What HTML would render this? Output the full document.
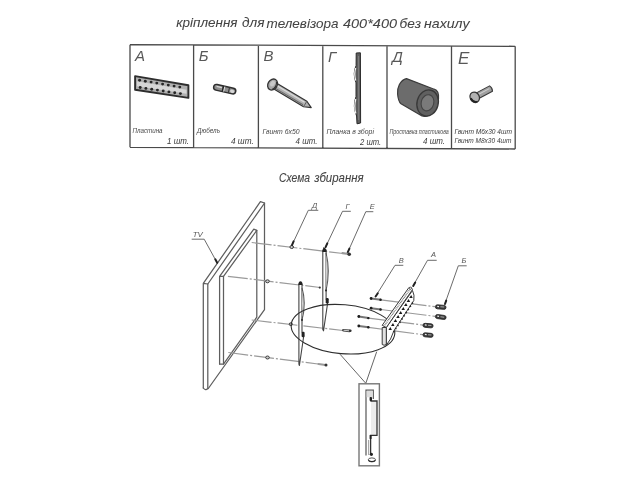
<!DOCTYPE html>
<html><head><meta charset="utf-8">
<style>
html,body{margin:0;padding:0;background:#fff;}
body{width:640px;height:480px;overflow:hidden;}
svg{display:block;will-change:transform;}
text{font-family:"Liberation Sans",sans-serif;font-style:italic;fill:#444;stroke:#444;stroke-width:0.25px;}
.title text{stroke-width:0.05px;}
.lbl text{fill:#484848;stroke:none;}
.qty text{fill:#3a3a3a;stroke:none;}
.dl text{fill:#555;stroke:none;}
.sub text{stroke-width:0.1px;}
.big text{fill:#585858;stroke:none;}
</style></head>
<body>
<svg width="640" height="480" viewBox="0 0 640 480">
<rect width="640" height="480" fill="#fff"/>
<!-- Title -->
<g font-size="13.2" class="title">
<text x="176.25" y="27.00" textLength="61.25" lengthAdjust="spacingAndGlyphs">кріплення</text>
<text x="242.00" y="27.40" textLength="22.50" lengthAdjust="spacingAndGlyphs">для</text>
<text x="266.50" y="27.54" textLength="72.00" lengthAdjust="spacingAndGlyphs">телевізора</text>
<text x="343.00" y="28.00" textLength="54.00" lengthAdjust="spacingAndGlyphs">400*400</text>
<text x="399.50" y="28.34" textLength="21.50" lengthAdjust="spacingAndGlyphs">без</text>
<text x="424.00" y="28.49" textLength="45.50" lengthAdjust="spacingAndGlyphs">нахилу</text>
</g>

<!-- Table -->
<g stroke="#4a4a4a" stroke-width="1.3" fill="none">
  <path d="M130 44.7 L515.2 46.3 M130 147.3 L515.2 149 M130 44.7 L130 147.3 M515.2 46.3 L515.2 149
           M193.6 45 L193.6 147.6 M258.4 45.2 L258.4 147.8 M322.8 45.5 L322.8 148.1 M387 45.8 L387 148.4 M451.5 46 L451.5 148.7"/>
</g>
<g font-size="15" class="big">
  <text x="135" y="60.6">А</text>
  <text x="198.8" y="60.5">Б</text>
  <text x="263.5" y="61">В</text>
  <text x="328" y="62">Г</text>
  <text x="392.3" y="62.3">Д</text>
  <text x="458" y="63.6" style="font-size:17px">Е</text>
</g>
<g font-size="6.5" class="lbl">
  <text x="132.5" y="133" textLength="30" lengthAdjust="spacingAndGlyphs">Пластина</text>
  <text x="197" y="133" textLength="23" lengthAdjust="spacingAndGlyphs">Дюбель</text>
  <text x="262.5" y="133.5" textLength="37" lengthAdjust="spacingAndGlyphs">Гвинт 6х50</text>
  <text x="326.6" y="134.3" textLength="47.4" lengthAdjust="spacingAndGlyphs">Планка в зборі</text>
  <text x="389.4" y="134.4" textLength="59.4" lengthAdjust="spacingAndGlyphs">Проставка пластикова</text>
  <text x="454.4" y="134.2" textLength="57.5" lengthAdjust="spacingAndGlyphs" style="fill:#3a3a3a">Гвинт М6х30  4шт</text>
  <text x="454.4" y="142.9" textLength="57" lengthAdjust="spacingAndGlyphs" style="fill:#3a3a3a">Гвинт М8х30 4шт</text>
</g>
<g font-size="9" class="qty">
  <text x="167" y="143.7" textLength="22" lengthAdjust="spacingAndGlyphs">1 шт.</text>
  <text x="231" y="143.7" textLength="22.7" lengthAdjust="spacingAndGlyphs">4 шт.</text>
  <text x="295.6" y="144" textLength="21.9" lengthAdjust="spacingAndGlyphs">4 шт.</text>
  <text x="360" y="145.4" textLength="21.2" lengthAdjust="spacingAndGlyphs">2 шт.</text>
  <text x="423" y="144.4" textLength="22" lengthAdjust="spacingAndGlyphs">4 шт.</text>
</g>


<!-- Table items -->
<!-- A plate -->
<g>
  <path d="M135.1 76.1 L188.4 85.2 L188.4 97.9 L135.1 89.8 Z" fill="#b0b0b0" stroke="#2e2e2e" stroke-width="1.9" stroke-linejoin="round"/>
  <path d="M137 81.3 L186.5 89.8 L186.5 93.8 L137 86.3 Z" fill="#d6d6d6"/>
  <g fill="#262626"><circle cx="139.6" cy="80.2" r="1.45"/><circle cx="145.3" cy="81.2" r="1.45"/><circle cx="151.1" cy="82.1" r="1.45"/><circle cx="156.8" cy="83.1" r="1.45"/><circle cx="162.6" cy="84.1" r="1.45"/><circle cx="168.3" cy="85.1" r="1.45"/><circle cx="174.1" cy="86.1" r="1.45"/><circle cx="179.8" cy="87.1" r="1.45"/><circle cx="140.2" cy="87.5" r="1.45"/><circle cx="145.9" cy="88.4" r="1.45"/><circle cx="151.7" cy="89.2" r="1.45"/><circle cx="157.4" cy="90.1" r="1.45"/><circle cx="163.2" cy="91.0" r="1.45"/><circle cx="168.9" cy="91.9" r="1.45"/><circle cx="174.7" cy="92.7" r="1.45"/><circle cx="180.4" cy="93.6" r="1.45"/></g>
</g>
<!-- Б dowel -->
<g transform="translate(224.7 89.2) rotate(13)">
  <rect x="-11.3" y="-2.9" width="22.6" height="5.8" rx="2.9" fill="#8e8e8e" stroke="#2e2e2e" stroke-width="1.4"/>
  <path d="M-8.5 -0.9 L-3 -0.9" stroke="#d8d8d8" stroke-width="1.3"/>
  <path d="M-1.8 -2.9 L-1.8 2.9" stroke="#262626" stroke-width="1.6"/>
  <path d="M-0.5 -2.6 L-0.5 2.6" stroke="#eee" stroke-width="0.8"/>
  <path d="M4.3 -2.9 L4.3 2.9" stroke="#333" stroke-width="1"/>
  <ellipse cx="7.8" cy="0.4" rx="2.2" ry="1.7" fill="#d6d6d6"/>
</g>
<!-- В screw -->
<g transform="translate(273 84.8) rotate(30.8)">
  <path d="M0 -3.2 L37.5 -3.2 L44.5 0 L37.5 3.2 L0 3.2 Z" fill="#b0b0b0" stroke="#333" stroke-width="1.2" stroke-linejoin="round"/>
  <path d="M3 -1.2 L36 -1.2" stroke="#dcdcdc" stroke-width="1.2"/>
  <path d="M4 1.8 L36 1.8" stroke="#6a6a6a" stroke-width="1"/>
  <path d="M37.5 -3.2 L37.5 3.2" stroke="#555" stroke-width="0.8"/>
  <ellipse cx="-0.5" cy="0" rx="4.6" ry="5.8" fill="#a8a8a8" stroke="#333" stroke-width="1.3"/>
  <path d="M1.5 -4.5 Q4.5 0 1.5 4.5" stroke="#333" stroke-width="1" fill="none"/>
  <ellipse cx="-1" cy="-0.8" rx="2.2" ry="3" fill="#c8c8c8"/>
</g>
<!-- Г plate -->
<g>
  <path d="M356.2 53 L360.4 52.8 L360.6 123 L357 123.8 L356.6 116 Q352.4 106 356 96.5 L356 82.8 Q352.4 73.5 356.1 65.5 Z" fill="#5e5e5e" stroke="#2a2a2a" stroke-width="1" stroke-linejoin="round"/>
  <path d="M355.7 68 Q353.8 74 355.7 80.5" stroke="#f4f4f4" stroke-width="1.2" fill="none"/>
  <path d="M355.8 99 Q353.8 106 355.8 113.5" stroke="#f4f4f4" stroke-width="1.2" fill="none"/>
  <path d="M358.6 56 L358.7 120" stroke="#858585" stroke-width="0.9"/>
</g>
<!-- Д spacer -->
<g>
  <path d="M406.5 78.6 C400 80 397 88 397.6 94 C398 99 399.5 102.5 401 103.8 L422 116 C427 117.5 431 115 434 111 L438.5 99 C439 93 437 90 434.2 89.2 Z" fill="#6c6c6c" stroke="#3c3c3c" stroke-width="1.2" stroke-linejoin="round"/>
  <ellipse cx="427.6" cy="103" rx="10.6" ry="13.2" transform="rotate(15 427.6 103)" fill="#606060" stroke="#383838" stroke-width="1.3"/>
  <ellipse cx="427.5" cy="102.8" rx="6.3" ry="8.2" transform="rotate(15 427.5 102.8)" fill="#7a7a7a" stroke="#444" stroke-width="1.1"/>
</g>
<!-- Е screw -->
<g transform="translate(474.7 97.3) rotate(-28)">
  <path d="M2 -3.1 L18.5 -3.1 Q20.3 0 18.5 3.1 L2 3.1 Z" fill="#a0a0a0" stroke="#3a3a3a" stroke-width="1.1" stroke-linejoin="round"/>
  <path d="M4 -0.8 L17 -0.8" stroke="#cfcfcf" stroke-width="1"/>
  <ellipse cx="0" cy="0" rx="4.6" ry="5.4" fill="#b2b2b2" stroke="#333" stroke-width="1.2"/>
  <path d="M-4 -1 Q-3.8 4.3 0.5 5" stroke="#222" stroke-width="1.8" fill="none"/>
</g>
<!-- Subtitle -->
<g font-size="13" class="sub" style="fill:#444">
<text x="279" y="182.4" textLength="31" lengthAdjust="spacingAndGlyphs">Схема</text>
<text x="314.2" y="182.4" textLength="49.5" lengthAdjust="spacingAndGlyphs">збирання</text>
</g>

<!-- Diagram lines -->
<g stroke="#5e5e5e" stroke-width="1.25" fill="none" stroke-linecap="round" stroke-linejoin="round">
  <!-- TV outer panel -->
  <path d="M203.3 388 L203.3 283.3 L260.4 201.7 L264.6 203 L207.8 284 L203.3 283.3"/>
  <path d="M207.8 284 L207.8 388.5 Q205.5 391 203.3 388"/>
  <path d="M264.5 203 L264.5 309.6 L208.3 388.5"/>
  <!-- TV inner panel -->
  <path d="M219.6 364.1 L219.6 276.3 L253.8 229.2 L256.8 230.4 L223.5 276.3 L219.6 276.3"/>
  <path d="M223.5 276.3 L223.5 364.1 L219.6 364.1"/>
  <path d="M256.8 230.4 L256.8 317.1 L223.5 364.1"/>
</g>

<!-- Dash-dot center lines -->
<g stroke="#9a9a9a" stroke-width="1.2" fill="none" stroke-dasharray="20 2 2 2">
  <path d="M251.7 242.5 L343 253.5"/>
  <path d="M227.9 276.3 L320 287.5"/>
  <path d="M251.7 320 L343 330.5"/>
  <path d="M228.3 352.5 L318 364"/>
  <path d="M380.8 299.8 L435 306.7"/>
  <path d="M380.8 309.5 L435 316.3"/>
  <path d="M368.5 318.1 L423 325.1"/>
  <path d="M368.5 327.3 L423 334.7"/>
</g>
<!-- spacer circles -->
<g stroke="#3a3a3a" stroke-width="1" fill="#ccc">
  <ellipse cx="291.7" cy="247" rx="1.8" ry="1.5"/>
  <ellipse cx="267.5" cy="281.3" rx="1.8" ry="1.5"/>
  <ellipse cx="290.8" cy="324.2" rx="1.6" ry="1.4"/>
  <ellipse cx="267.5" cy="357.5" rx="1.8" ry="1.5"/>
</g>
<!-- Leaders and labels -->
<g stroke="#5a5a5a" stroke-width="0.9" fill="none">
  <path d="M191.7 239.2 L204.2 239.2 L217 262.5"/>
  <path d="M318.3 210.3 L308.3 210.3 L292 245"/>
  <path d="M350.8 211.3 L342.5 211.3 L325.6 247"/>
  <path d="M373.3 211.7 L365.8 211.7 L347.8 252.2"/>
  <path d="M403.3 265.3 L395 265.3 L375.8 296"/>
  <path d="M436.7 260.3 L427.5 260.3 L413.3 285.5"/>
  <path d="M466.7 265.8 L458.3 265.8 L445 303.5"/>
</g>
<g stroke="#222" stroke-width="2" stroke-linecap="round">
  <path d="M217.2 262.8 L215.3 259.3"/>
  <path d="M292 245.2 L293.6 241.4"/>
  <path d="M325.6 247.2 L327.3 243.4"/>
  <path d="M347.7 252.4 L349.4 248.6"/>
  <path d="M375.6 296.5 L377.8 293.3"/>
  <path d="M413.2 286 L415.2 282.6"/>
  <path d="M445 304 L446.2 300.6"/>
</g>
<g font-size="7.5" class="dl">
  <text x="192.8" y="236.8" textLength="10" lengthAdjust="spacingAndGlyphs">TV</text>
  <text x="312" y="207.6">Д</text>
  <text x="345.5" y="209.3">Г</text>
  <text x="369.8" y="209.3">Е</text>
  <text x="398.8" y="262.6">В</text>
  <text x="431" y="256.8">А</text>
  <text x="461.4" y="263.4">Б</text>
</g>
<!-- Г plates -->
<g stroke="#444" stroke-width="1.1" fill="none" stroke-linejoin="round">
  <path d="M322.8 250 L322.8 329.5 L323.5 330.8 L327.5 304 L327.5 302 L326.1 298.5 L326.1 250 Z" fill="#fff"/>
  <path d="M326 253 Q330.5 270 326 291" fill="#e2e2e2" stroke="#555"/>
  <path d="M326 256 Q328.6 270 326 287" stroke="#999" stroke-width="0.7"/>
  <path d="M298.9 284 L298.9 364 L299.4 365.5 L303.6 337 L303.6 335 L302 332 L302 284 Z" fill="#fff"/>
  <path d="M302 288 Q306.5 303 302 320" fill="#e2e2e2" stroke="#555"/>
  <path d="M302 291 Q304.5 303 302 316" stroke="#999" stroke-width="0.7"/>
</g>
<g fill="#222">
  <path d="M322.3 252 L323.4 247.3 Q325 246.8 326.4 250 L326.4 252 Z"/>
  <path d="M298.4 285 Q298.4 281.3 300.5 281.3 Q302.5 281.3 302.5 285 Z"/>
  <rect x="325.7" y="298" width="3" height="5.5" rx="1.2"/>
  <rect x="301.6" y="331.8" width="3" height="5.5" rx="1.2"/>
  <circle cx="326" cy="290.5" r="0.9"/>
  <circle cx="302" cy="320" r="0.9"/>
</g>
<!-- Ellipse detail -->
<ellipse cx="343" cy="329.2" rx="52" ry="24.5" transform="rotate(5 343 329.2)" stroke="#2e2e2e" stroke-width="1.1" fill="none"/>
<path d="M340 354.2 L365.8 383.3 L376.7 351.7" stroke="#555" stroke-width="0.9" fill="none"/>
<!-- Bracket A -->
<g stroke="#3a3a3a" stroke-width="1" fill="#fff" stroke-linejoin="round">
  <path d="M412.5 290.5 Q414.8 295 413.8 300.5 L393.9 330.8 Q391 340 386.3 345.2 L386.3 327.5 Z"/>
  <path d="M382.2 325.3 L409 287.4 Q411.5 286.8 412.5 289.5 L386.3 327.5 Z"/>
  <path d="M383.9 326.4 L410.5 288.6" stroke="#6a6a6a" stroke-width="1.4" stroke-dasharray="0.8 0.8"/>
  <path d="M382.2 327.5 L386.3 327.5 L386.3 344.5 Q384 346 382.2 344.5 Z" fill="#e2e2e2"/>
</g>
<path d="M411.2 294.9 L409.2 298.1 L412.7 298.1 Z M408.6 298.9 L406.6 302.1 L410.1 302.1 Z M406.0 302.9 L404.0 306.1 L407.5 306.1 Z M403.4 306.9 L401.4 310.1 L404.9 310.1 Z M400.8 310.9 L398.8 314.1 L402.3 314.1 Z M398.2 314.9 L396.2 318.1 L399.7 318.1 Z M395.6 318.9 L393.6 322.1 L397.1 322.1 Z M393.0 322.9 L391.0 326.1 L394.5 326.1 Z M390.4 326.9 L388.4 330.1 L391.9 330.1 Z" fill="#1a1a1a"/>
<path d="M412.8 302.5 L393.5 332" stroke="#2a2a2a" stroke-width="1.7" stroke-dasharray="1.4 2.4"/>
<circle cx="410.6" cy="288.2" r="1.1" fill="#fff" stroke="#444" stroke-width="0.8"/>
<!-- Bolts B -->
<g stroke="#777" stroke-width="2" stroke-linecap="round">
  <path d="M371.1 298.5 L380.75 299.8"/>
  <path d="M371.1 308.2 L380.75 309.5"/>
  <path d="M358.8 316.5 L368.5 318.1"/>
  <path d="M358.8 326 L368.5 327.3"/>
</g>
<g fill="#1e1e1e">
  <circle cx="371.1" cy="298.5" r="1.4"/><circle cx="380.5" cy="299.8" r="1.2"/>
  <circle cx="371.1" cy="308.2" r="1.4"/><circle cx="380.5" cy="309.5" r="1.2"/>
  <circle cx="358.8" cy="316.5" r="1.4"/><circle cx="368.3" cy="318.1" r="1.2"/>
  <circle cx="358.8" cy="326" r="1.4"/><circle cx="368.3" cy="327.3" r="1.2"/>
</g>
<path d="M343.3 330.2 L349.5 330.9" stroke="#444" stroke-width="2.6" stroke-linecap="round"/>
<path d="M344 330.3 L349 330.8" stroke="#ddd" stroke-width="0.9" stroke-linecap="round"/>
<g stroke="#999" stroke-width="2.2" stroke-linecap="round">
  <path d="M342.5 253.2 L348.5 254"/>
  <path d="M318.5 364 L325.5 365"/>
</g>
<g fill="#333">
  <circle cx="350.3" cy="330.8" r="1.3"/>
  <circle cx="349.2" cy="254.3" r="1.8"/>
  <circle cx="326" cy="365" r="1.5"/>
  <circle cx="319.8" cy="287.6" r="1.1"/>
</g>
<!-- Dowels -->
<g transform="translate(440.7 307.1) rotate(4.9)"><rect x="-5.3" y="-2" width="10.6" height="4" rx="2" fill="#3a3a3a" stroke="#222" stroke-width="0.8"/><path d="M-3.5 -0.4 L-1.7 -0.4" stroke="#eee" stroke-width="1.2"/><path d="M-0.3 -0.3 L3.5 -0.3" stroke="#aaa" stroke-width="1"/></g>
<g transform="translate(440.7 317.0) rotate(7.5)"><rect x="-5.3" y="-2" width="10.7" height="4" rx="2" fill="#3a3a3a" stroke="#222" stroke-width="0.8"/><path d="M-3.5 -0.4 L-1.7 -0.4" stroke="#eee" stroke-width="1.2"/><path d="M-0.3 -0.3 L3.5 -0.3" stroke="#aaa" stroke-width="1"/></g>
<g transform="translate(428.1 325.6) rotate(5.1)"><rect x="-5.1" y="-2" width="10.1" height="4" rx="2" fill="#3a3a3a" stroke="#222" stroke-width="0.8"/><path d="M-3.3 -0.4 L-1.5 -0.4" stroke="#eee" stroke-width="1.2"/><path d="M-0.1 -0.3 L3.3 -0.3" stroke="#aaa" stroke-width="1"/></g>
<g transform="translate(428.1 335.1) rotate(5.1)"><rect x="-5.1" y="-2" width="10.1" height="4" rx="2" fill="#3a3a3a" stroke="#222" stroke-width="0.8"/><path d="M-3.3 -0.4 L-1.5 -0.4" stroke="#eee" stroke-width="1.2"/><path d="M-0.1 -0.3 L3.3 -0.3" stroke="#aaa" stroke-width="1"/></g>
<!-- Detail box -->
<g fill="none" stroke-linejoin="miter">
  <rect x="359" y="383.8" width="20.4" height="82" stroke="#777" stroke-width="1.4"/>
  <path d="M366 455.5 L366 390.2 L373.3 390.2 L373.3 399" stroke="#555" stroke-width="1.2"/>
  <rect x="366.6" y="390.8" width="6.2" height="6.5" fill="#dcdcdc" stroke="none"/>
  <rect x="371" y="401.5" width="5.6" height="33.5" fill="#ececec" stroke="none"/>
  <path d="M371 398.5 L371 401 L377 401 L377 435.3 L370.6 435.3 L370.6 454.5" stroke="#333" stroke-width="1.3"/>
  <path d="M368.6 440 L368.6 455" stroke="#888" stroke-width="0.8"/>
</g>
<g fill="#222">
  <rect x="369.6" y="397" width="2.4" height="4" rx="0.8"/>
  <rect x="369.6" y="435" width="2" height="4" rx="0.6"/>
  <circle cx="371.4" cy="454.3" r="1.6"/>
</g>
<ellipse cx="371.9" cy="459.9" rx="3.7" ry="2" stroke="#444" stroke-width="0.9" fill="none"/>
<path d="M368.5 460.5 Q371.9 462.5 375.3 460.5" stroke="#222" stroke-width="1.2" fill="none"/>
</svg>
</body></html>
